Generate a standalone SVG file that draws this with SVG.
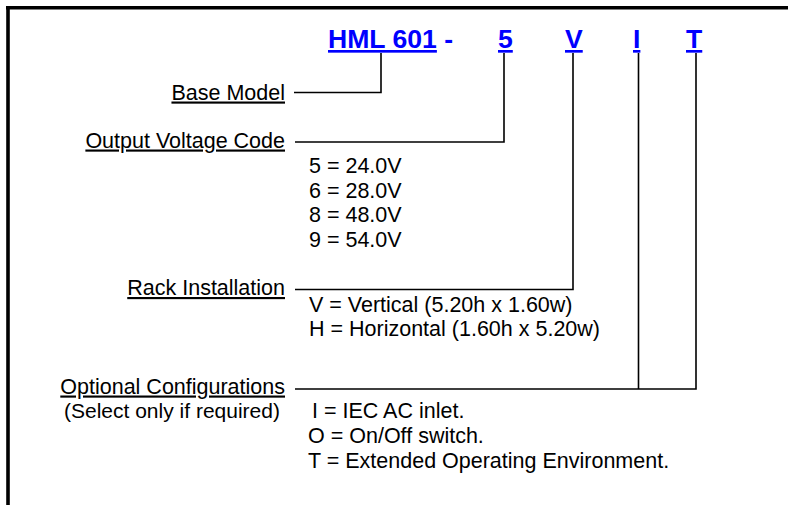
<svg xmlns="http://www.w3.org/2000/svg" width="788" height="505" viewBox="0 0 788 505">
<style>
.t{font-family:"Liberation Sans",Arial,sans-serif;font-size:21.5px;fill:#000}
.lbl{text-anchor:end;text-decoration:underline}
.code{font-family:"Liberation Sans",Arial,sans-serif;font-size:26.6px;font-weight:bold;fill:#0000FF}
.u{text-decoration:underline}
.c{fill:none;stroke:#000;stroke-width:1.6}
.frame{stroke:#000;stroke-width:3.6;fill:none}
</style>
<rect width="788" height="505" fill="#fff"/>
<g id="frame">
<line class="frame" x1="6" y1="7.8" x2="788" y2="7.8"/>
<line class="frame" x1="8" y1="6" x2="8" y2="505"/>
</g>
<g id="title">
<text class="code" x="328" y="48"><tspan class="u">HML 601</tspan> -</text>
<text class="code u" x="498" y="48">5</text>
<text class="code u" x="565" y="48">V</text>
<text class="code u" x="633" y="48">I</text>
<text class="code u" x="686" y="48">T</text>
</g>
<g id="base-model">
<text class="t lbl" x="285" y="99.5">Base Model</text>
</g>
<g id="output-voltage">
<text class="t lbl" x="285" y="147.5">Output Voltage Code</text>
<text class="t" x="309" y="173">5 = 24.0V</text>
<text class="t" x="309" y="197.5">6 = 28.0V</text>
<text class="t" x="309" y="222">8 = 48.0V</text>
<text class="t" x="309" y="246.5">9 = 54.0V</text>
</g>
<g id="rack">
<text class="t lbl" x="285" y="295">Rack Installation</text>
<text class="t" x="309" y="311.5">V = Vertical (5.20h x 1.60w)</text>
<text class="t" x="309" y="336">H = Horizontal (1.60h x 5.20w)</text>
</g>
<g id="optional">
<text class="t lbl" x="285" y="393.5">Optional Configurations</text>
<text class="t" x="64" y="418" style="font-size:21px">(Select only if required)</text>
<text class="t" x="312" y="417.5">I = IEC AC inlet.</text>
<text class="t" x="308" y="443">O = On/Off switch.</text>
<text class="t" x="308" y="468">T = Extended Operating Environment.</text>
</g>
<g id="connectors">
<polyline class="c" points="294,92.5 381,92.5 381,53"/>
<polyline class="c" points="295,142 504,142 504,53"/>
<polyline class="c" points="295,289.5 573,289.5 573,53"/>
<polyline class="c" points="295,389 696,389 696,53"/>
<line class="c" x1="638.5" y1="389" x2="638.5" y2="53"/>
</g>
</svg>
